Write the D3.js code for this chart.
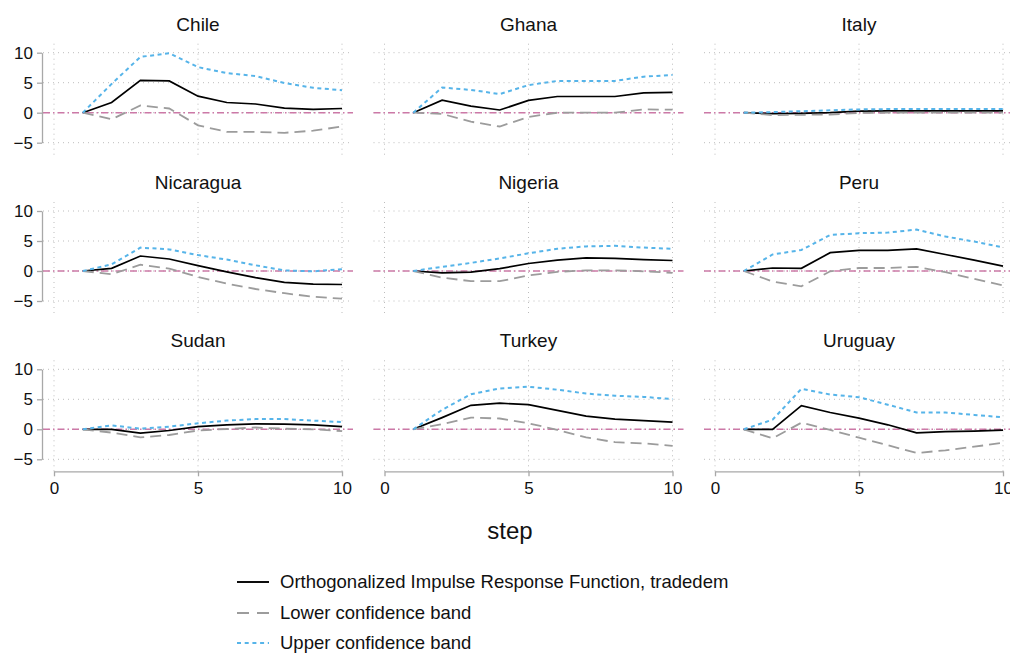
<!DOCTYPE html>
<html>
<head>
<meta charset="utf-8">
<script src="https://cdn.jsdelivr.net/npm/d3@7"></script>
<style>
  html, body { margin: 0; padding: 0; background: #fff; }
  svg { display: block; font-family: Arial, "Liberation Sans", sans-serif; }
</style>
</head>
<body>
<svg id="chart" width="1010" height="654"></svg>
<script>
// ---------------- DATA ----------------
const countries = ["Chile", "Ghana", "Italy", "Nicaragua", "Nigeria", "Peru", "Sudan", "Turkey", "Uruguay"];
const steps = [1, 2, 3, 4, 5, 6, 7, 8, 9, 10];
const xTicks = [0, 5, 10];
const yTicks = [-5, 0, 5, 10];

// Orthogonalized IRF, one array per country (same order as countries)
const irf = [
  [0, 1.7, 5.4, 5.3, 2.75, 1.7, 1.45, 0.75, 0.55, 0.7],     // Chile
  [0, 2.1, 1.1, 0.45, 2.05, 2.7, 2.7, 2.7, 3.3, 3.4],       // Ghana
  [0, -0.15, -0.1, 0.0, 0.25, 0.3, 0.3, 0.3, 0.3, 0.3],      // Italy
  [0, 0.45, 2.5, 2.0, 0.9, -0.15, -1.1, -1.9, -2.2, -2.25],  // Nicaragua
  [0, -0.3, -0.2, 0.4, 1.25, 1.8, 2.2, 2.1, 1.9, 1.75],      // Nigeria
  [0, 0.5, 0.45, 3.05, 3.45, 3.45, 3.7, 2.75, 1.8, 0.8],     // Peru
  [0, 0.0, -0.65, -0.2, 0.45, 0.75, 0.9, 0.85, 0.75, 0.45],  // Sudan
  [0, 1.95, 4.0, 4.35, 4.1, 3.15, 2.2, 1.7, 1.45, 1.2],      // Turkey
  [0, 0.0, 3.95, 2.8, 1.85, 0.75, -0.6, -0.4, -0.3, -0.15]   // Uruguay
];
// Lower confidence band
const lower = [
  [0, -1.1, 1.2, 0.7, -2.1, -3.2, -3.2, -3.35, -3.0, -2.3],
  [0, -0.2, -1.5, -2.3, -0.7, 0.0, 0.0, 0.0, 0.55, 0.5],
  [0, -0.4, -0.35, -0.3, -0.05, 0.0, 0.0, 0.0, 0.0, 0.0],
  [0, -0.55, 1.05, 0.4, -1.0, -2.1, -3.0, -3.7, -4.3, -4.6],
  [0, -1.1, -1.7, -1.7, -0.75, -0.15, 0.1, 0.1, -0.05, -0.3],
  [0, -1.75, -2.55, -0.05, 0.5, 0.5, 0.7, -0.2, -1.3, -2.4],
  [0, -0.55, -1.35, -0.95, -0.2, 0.05, 0.3, 0.1, 0.0, -0.3],
  [0, 0.85, 1.95, 1.8, 1.0, -0.1, -1.35, -2.15, -2.35, -2.75],
  [0, -1.5, 1.1, -0.1, -1.4, -2.65, -3.95, -3.5, -2.9, -2.25]
];
// Upper confidence band
const upper = [
  [0, 4.8, 9.3, 9.9, 7.6, 6.6, 6.1, 4.95, 4.15, 3.75],
  [0, 4.2, 3.8, 3.1, 4.6, 5.3, 5.3, 5.3, 6.0, 6.3],
  [0, 0.1, 0.25, 0.4, 0.55, 0.6, 0.6, 0.6, 0.6, 0.6],
  [0, 1.1, 3.9, 3.6, 2.65, 1.9, 0.95, 0.1, -0.05, 0.3],
  [0, 0.7, 1.35, 2.1, 2.95, 3.7, 4.1, 4.2, 3.9, 3.7],
  [0, 2.75, 3.5, 6.0, 6.3, 6.4, 6.9, 5.75, 4.9, 3.95],
  [0, 0.65, 0.1, 0.45, 1.0, 1.45, 1.7, 1.7, 1.45, 1.2],
  [0, 3.25, 5.85, 6.8, 7.1, 6.6, 5.95, 5.6, 5.4, 5.05],
  [0, 1.6, 6.75, 5.8, 5.35, 4.1, 2.8, 2.8, 2.4, 2.0]
];

const legendLabels = [
  "Orthogonalized Impulse Response Function, tradedem",
  "Lower confidence band",
  "Upper confidence band"
];
const xTitle = "step";

// ---------------- STYLE ----------------
const colIRF = "#000000", colLower = "#9c9c9c", colUpper = "#56B4E9", colZero = "#CC79A7";
const gridCol = "#bdbdbd", axisCol = "#a8a8a8", textCol = "#111";

const svg = d3.select("#chart");
const colX = [54, 384.5, 715];
const rowY = [52.7, 211, 369.3];
const pw = 288, ph = 90;

const lineGen = (x, y) => d3.line().x((d, i) => x(steps[i])).y(d => y(d));

countries.forEach((name, i) => {
  const c = i % 3, r = Math.floor(i / 3);
  const x = d3.scaleLinear().domain([0, 10]).range([colX[c], colX[c] + pw]);
  const y = d3.scaleLinear().domain([-5, 10]).range([rowY[r] + ph, rowY[r]]);
  const g = svg.append("g");
  const xl = x(0) - 11, xr = x(10) + 11;
  const yt = y(10) - 9, yb = y(-5) + 12;

  // grid
  g.selectAll(".hg").data(yTicks).enter().append("line")
    .attr("x1", xl).attr("x2", xr)
    .attr("y1", d => y(d)).attr("y2", d => y(d))
    .attr("stroke", gridCol).attr("stroke-width", 1).attr("stroke-dasharray", "1,4");
  g.selectAll(".vg").data(xTicks).enter().append("line")
    .attr("x1", d => x(d)).attr("x2", d => x(d))
    .attr("y1", yt).attr("y2", yb)
    .attr("stroke", gridCol).attr("stroke-width", 1).attr("stroke-dasharray", "1,4");

  // zero line
  g.append("line").attr("x1", xl).attr("x2", xr).attr("y1", y(0)).attr("y2", y(0))
    .attr("stroke", colZero).attr("stroke-width", 1.5).attr("stroke-dasharray", "7,3,1.5,3");

  // title
  g.append("text").attr("x", x(5)).attr("y", y(10) - 22)
    .attr("text-anchor", "middle").attr("font-size", 19).attr("fill", textCol).text(name);

  // series
  g.append("path").datum(irf[i]).attr("d", lineGen(x, y))
    .attr("fill", "none").attr("stroke", colIRF).attr("stroke-width", 1.7);
  g.append("path").datum(lower[i]).attr("d", lineGen(x, y))
    .attr("fill", "none").attr("stroke", colLower).attr("stroke-width", 1.8).attr("stroke-dasharray", "11,6");
  g.append("path").datum(upper[i]).attr("d", lineGen(x, y))
    .attr("fill", "none").attr("stroke", colUpper).attr("stroke-width", 2).attr("stroke-dasharray", "4,3.5");

  // y axis (first column)
  if (c === 0) {
    const ya = g.append("g").attr("transform", `translate(${x(0) - 12},0)`)
      .call(d3.axisLeft(y).tickValues(yTicks).tickSize(5).tickSizeOuter(0).tickPadding(4).tickFormat(d3.format("d")));
    ya.select(".domain").attr("stroke", axisCol).attr("stroke-width", 1.3);
    ya.selectAll(".tick line").attr("stroke", axisCol).attr("stroke-width", 1.3);
    ya.selectAll(".tick text").attr("font-size", 17).attr("fill", textCol).attr("font-family", null);
  }
  // x axis (last row)
  if (r === 2) {
    const xa = g.append("g").attr("transform", `translate(0,${yb})`)
      .call(d3.axisBottom(x).tickValues(xTicks).tickSize(5).tickSizeOuter(0).tickPadding(6).tickFormat(d3.format("d")));
    xa.select(".domain").attr("stroke", axisCol).attr("stroke-width", 1.3);
    xa.selectAll(".tick line").attr("stroke", axisCol).attr("stroke-width", 1.3);
    xa.selectAll(".tick text").attr("font-size", 17).attr("fill", textCol).attr("font-family", null);
  }
});

// x-axis title
svg.append("text").attr("x", 510).attr("y", 539).attr("text-anchor", "middle")
  .attr("font-size", 24).attr("fill", textCol).text(xTitle);

// legend
const legStyles = [
  { color: colIRF, dash: null, w: 1.9 },
  { color: colLower, dash: "12,8", w: 1.9 },
  { color: colUpper, dash: "4,3.7", w: 2.1 }
];
const legY = [582, 613, 643];
legendLabels.forEach((lab, i) => {
  const s = legStyles[i];
  const ln = svg.append("line").attr("x1", 237).attr("x2", 269).attr("y1", legY[i]).attr("y2", legY[i])
    .attr("stroke", s.color).attr("stroke-width", s.w);
  if (s.dash) ln.attr("stroke-dasharray", s.dash);
  svg.append("text").attr("x", 280).attr("y", legY[i]).attr("dy", "0.35em")
    .attr("font-size", 18.5).attr("fill", textCol).text(lab);
});
</script>
</body>
</html>
